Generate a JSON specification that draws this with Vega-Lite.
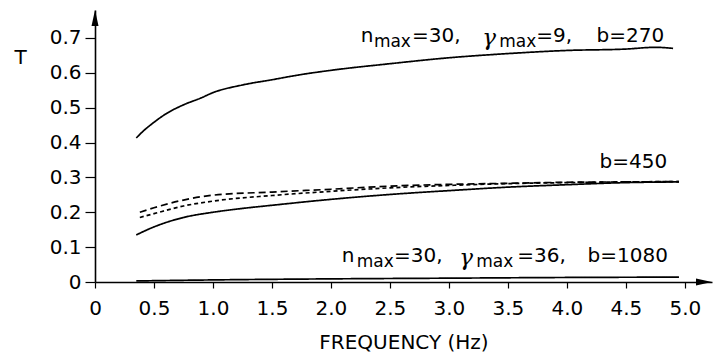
{
  "$schema": "https://vega.github.io/schema/vega-lite/v6.json",
  "autosize": "none",
  "width": 617,
  "height": 272,
  "padding": {"left": 95, "top": 10, "right": 4, "bottom": 72},
  "background": "white",
  "config": {
    "view": {"stroke": null},
    "axis": {
      "grid": false,
      "domainColor": "black",
      "domainWidth": 1.6,
      "tickColor": "black",
      "tickWidth": 1.2,
      "labelFont": "DejaVu Sans",
      "labelFontSize": 20,
      "labelColor": "black",
      "labelOverlap": false,
      "titleFont": "DejaVu Sans",
      "titleFontSize": 20,
      "titleFontWeight": "normal",
      "titleColor": "black"
    }
  },
  "datasets": {
    "curves": [
      {"series": "b270", "freq": 0.35, "T": 0.413},
      {"series": "b270", "freq": 0.4, "T": 0.43},
      {"series": "b270", "freq": 0.5, "T": 0.458},
      {"series": "b270", "freq": 0.6, "T": 0.482},
      {"series": "b270", "freq": 0.75, "T": 0.508},
      {"series": "b270", "freq": 0.9, "T": 0.528},
      {"series": "b270", "freq": 1.0, "T": 0.543},
      {"series": "b270", "freq": 1.25, "T": 0.565},
      {"series": "b270", "freq": 1.5, "T": 0.58},
      {"series": "b270", "freq": 1.75, "T": 0.595},
      {"series": "b270", "freq": 2.0, "T": 0.607},
      {"series": "b270", "freq": 2.5, "T": 0.626},
      {"series": "b270", "freq": 3.0, "T": 0.643},
      {"series": "b270", "freq": 3.5, "T": 0.655},
      {"series": "b270", "freq": 4.0, "T": 0.664},
      {"series": "b270", "freq": 4.5, "T": 0.668},
      {"series": "b270", "freq": 4.75, "T": 0.673},
      {"series": "b270", "freq": 4.9, "T": 0.67},
      {"series": "b450", "freq": 0.35, "T": 0.135},
      {"series": "b450", "freq": 0.5, "T": 0.158},
      {"series": "b450", "freq": 0.75, "T": 0.185},
      {"series": "b450", "freq": 1.0, "T": 0.2},
      {"series": "b450", "freq": 1.25, "T": 0.211},
      {"series": "b450", "freq": 1.5, "T": 0.22},
      {"series": "b450", "freq": 2.0, "T": 0.237},
      {"series": "b450", "freq": 2.5, "T": 0.251},
      {"series": "b450", "freq": 3.0, "T": 0.262},
      {"series": "b450", "freq": 3.5, "T": 0.272},
      {"series": "b450", "freq": 4.0, "T": 0.279},
      {"series": "b450", "freq": 4.5, "T": 0.285},
      {"series": "b450", "freq": 4.95, "T": 0.287},
      {"series": "dashA", "freq": 0.38, "T": 0.2},
      {"series": "dashA", "freq": 0.5, "T": 0.213},
      {"series": "dashA", "freq": 0.75, "T": 0.235},
      {"series": "dashA", "freq": 1.0, "T": 0.249},
      {"series": "dashA", "freq": 1.5, "T": 0.258},
      {"series": "dashA", "freq": 2.0, "T": 0.266},
      {"series": "dashA", "freq": 2.5, "T": 0.275},
      {"series": "dashA", "freq": 3.0, "T": 0.28},
      {"series": "dashA", "freq": 3.5, "T": 0.283},
      {"series": "dashA", "freq": 4.0, "T": 0.286},
      {"series": "dashA", "freq": 4.5, "T": 0.287},
      {"series": "dashA", "freq": 4.95, "T": 0.288},
      {"series": "dashB", "freq": 0.38, "T": 0.185},
      {"series": "dashB", "freq": 0.5, "T": 0.196},
      {"series": "dashB", "freq": 0.75, "T": 0.218},
      {"series": "dashB", "freq": 1.0, "T": 0.232},
      {"series": "dashB", "freq": 1.5, "T": 0.248},
      {"series": "dashB", "freq": 2.0, "T": 0.26},
      {"series": "dashB", "freq": 2.5, "T": 0.27},
      {"series": "dashB", "freq": 3.0, "T": 0.277},
      {"series": "dashB", "freq": 3.5, "T": 0.282},
      {"series": "dashB", "freq": 4.0, "T": 0.285},
      {"series": "dashB", "freq": 4.5, "T": 0.287},
      {"series": "dashB", "freq": 4.95, "T": 0.288},
      {"series": "b1080", "freq": 0.35, "T": 0.003},
      {"series": "b1080", "freq": 1.0, "T": 0.006},
      {"series": "b1080", "freq": 2.0, "T": 0.009},
      {"series": "b1080", "freq": 3.0, "T": 0.011},
      {"series": "b1080", "freq": 4.0, "T": 0.013},
      {"series": "b1080", "freq": 4.95, "T": 0.014}
    ],
    "labels": [
      {"part": "main", "text": "n", "freq": 2.253, "T": 0.688},
      {"part": "sub", "text": "max", "freq": 2.364, "T": 0.688},
      {"part": "main", "text": "=30,", "freq": 2.687, "T": 0.688},
      {"part": "greek", "text": "γ", "freq": 3.282, "T": 0.688},
      {"part": "sub", "text": "max", "freq": 3.427, "T": 0.688},
      {"part": "main", "text": "=9,", "freq": 3.741, "T": 0.688},
      {"part": "main", "text": "b=270", "freq": 4.252, "T": 0.688},
      {"part": "main", "text": "b=450", "freq": 4.277, "T": 0.327},
      {"part": "main", "text": "n", "freq": 2.092, "T": 0.057},
      {"part": "sub", "text": "max", "freq": 2.219, "T": 0.057},
      {"part": "main", "text": "=30,", "freq": 2.534, "T": 0.057},
      {"part": "greek", "text": "γ", "freq": 3.087, "T": 0.057},
      {"part": "sub", "text": "max", "freq": 3.231, "T": 0.057},
      {"part": "main", "text": "=36,", "freq": 3.58, "T": 0.057},
      {"part": "main", "text": "b=1080", "freq": 4.175, "T": 0.057}
    ],
    "arrows": [
      {"dir": "up", "freq": 0, "T": 0.751},
      {"dir": "right", "freq": 5.145, "T": 0}
    ]
  },
  "layer": [
    {
      "data": {"name": "curves"},
      "mark": {"type": "line", "color": "black", "strokeWidth": 1.7, "interpolate": "monotone"},
      "encoding": {
        "x": {
          "field": "freq", "type": "quantitative",
          "scale": {"domain": [0, 5.23], "nice": false, "zero": false},
          "axis": {
            "values": [0, 0.5, 1, 1.5, 2, 2.5, 3, 3.5, 4, 4.5, 5],
            "tickCount": 20,
            "labelExpr": "datum.value == 0 ? '0' : format(datum.value, '.1f')",
            "tickSize": 6,
            "labelPadding": 10,
            "labelFlush": false,
            "title": "FREQUENCY (Hz)",
            "titleBaseline": "alphabetic",
            "titleY": 66
          }
        },
        "y": {
          "field": "T", "type": "quantitative",
          "scale": {"domain": [0, 0.78], "nice": false},
          "axis": {
            "values": [0, 0.1, 0.2, 0.3, 0.4, 0.5, 0.6, 0.7],
            "tickCount": 20,
            "labelExpr": "datum.value == 0 ? '0' : format(datum.value, '.1f')",
            "tickSize": 10,
            "labelPadding": 4,
            "labelFlush": false,
            "title": "T",
            "titleAngle": 0,
            "titleAlign": "center",
            "titleBaseline": "middle",
            "titleX": -75,
            "titleY": 47
          }
        },
        "detail": {"field": "series"},
        "strokeDash": {
          "field": "series", "type": "nominal",
          "scale": {"domain": ["b270", "b450", "dashA", "dashB", "b1080"], "range": [[1, 0], [1, 0], [7, 4], [4, 3], [1, 0]]},
          "legend": null
        }
      }
    },
    {
      "data": {"name": "arrows"},
      "transform": [{"filter": "datum.dir == 'up'"}],
      "mark": {"type": "point", "shape": "M0,-1L0.35,0.6L-0.35,0.6Z", "filled": true, "color": "black", "size": 400, "opacity": 1},
      "encoding": {
        "x": {"field": "freq", "type": "quantitative"},
        "y": {"field": "T", "type": "quantitative"}
      }
    },
    {
      "data": {"name": "arrows"},
      "transform": [{"filter": "datum.dir == 'right'"}],
      "mark": {"type": "point", "shape": "M1,0L-0.6,0.35L-0.6,-0.35Z", "filled": true, "color": "black", "size": 400, "opacity": 1},
      "encoding": {
        "x": {"field": "freq", "type": "quantitative"},
        "y": {"field": "T", "type": "quantitative"}
      }
    },
    {
      "data": {"name": "labels"},
      "transform": [{"filter": "datum.part == 'main'"}],
      "mark": {"type": "text", "font": "DejaVu Sans", "fontSize": 20, "align": "left", "baseline": "alphabetic", "color": "black"},
      "encoding": {
        "x": {"field": "freq", "type": "quantitative"},
        "y": {"field": "T", "type": "quantitative"},
        "text": {"field": "text"}
      }
    },
    {
      "data": {"name": "labels"},
      "transform": [{"filter": "datum.part == 'sub'"}],
      "mark": {"type": "text", "font": "DejaVu Sans", "fontSize": 17, "align": "left", "baseline": "alphabetic", "dy": 5, "color": "black"},
      "encoding": {
        "x": {"field": "freq", "type": "quantitative"},
        "y": {"field": "T", "type": "quantitative"},
        "text": {"field": "text"}
      }
    },
    {
      "data": {"name": "labels"},
      "transform": [{"filter": "datum.part == 'greek'"}],
      "mark": {"type": "text", "font": "DejaVu Serif", "fontStyle": "italic", "fontSize": 23, "align": "left", "baseline": "alphabetic", "dy": 3, "color": "black"},
      "encoding": {
        "x": {"field": "freq", "type": "quantitative"},
        "y": {"field": "T", "type": "quantitative"},
        "text": {"field": "text"}
      }
    }
  ]
}
